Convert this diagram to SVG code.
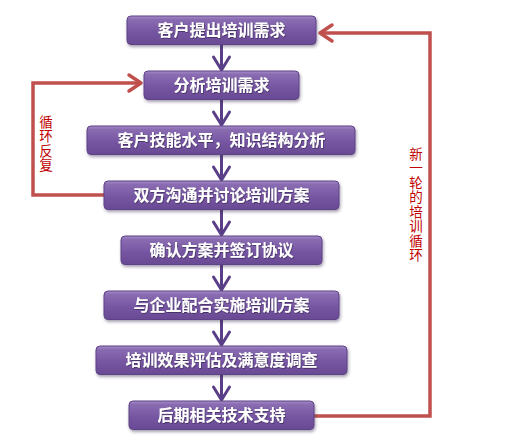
<svg xmlns="http://www.w3.org/2000/svg" width="505" height="444" viewBox="0 0 505 444">
<defs>
<linearGradient id="g" x1="0" y1="0" x2="0" y2="1">
<stop offset="0" stop-color="#a68cc8"/>
<stop offset="0.12" stop-color="#8a6cb2"/>
<stop offset="0.6" stop-color="#7454a0"/>
<stop offset="1" stop-color="#6a4a94"/>
</linearGradient>
<filter id="sh" x="-10%" y="-30%" width="120%" height="170%">
<feDropShadow dx="1" dy="2" stdDeviation="1.5" flood-color="#3a2a55" flood-opacity="0.45"/>
</filter>
<filter id="ts" x="-5%" y="-20%" width="110%" height="140%">
<feDropShadow dx="0.6" dy="0.8" stdDeviation="0.5" flood-color="#2a1a40" flood-opacity="0.7"/>
</filter>
</defs>
<style>
.box{fill:url(#g);stroke:#5e4386;stroke-width:1;filter:url(#sh)}
.lbl{font-family:"Noto Sans CJK SC","Noto Sans",sans-serif;font-weight:bold;font-size:16px;fill:#ffffff;text-anchor:middle;filter:url(#ts)}
.flow{stroke:#5a3f88;stroke-width:3;fill:none}
.head{stroke:#5a3f88;stroke-width:3;fill:none;stroke-linecap:round;stroke-linejoin:round}
.loop{stroke:#c0504d;stroke-width:3.5;fill:none}
.lhead{stroke:#c0504d;stroke-width:3.5;fill:none;stroke-linecap:round;stroke-linejoin:round}
.side{font-family:"Noto Sans CJK SC","Noto Sans",sans-serif;font-size:13.5px;fill:#c00000;text-anchor:start;writing-mode:vertical-rl;letter-spacing:1px}
</style>
<rect width="505" height="444" fill="#ffffff"/>
<g id="connectors">
<path class="flow" d="M221.5,44 V70"/><path class="head" d="M213.5,57 L221.5,70 L229.5,57"/>
<path class="flow" d="M221.5,100 V125"/><path class="head" d="M213.5,112 L221.5,125 L229.5,112"/>
<path class="flow" d="M221.5,154 V180"/><path class="head" d="M213.5,167 L221.5,180 L229.5,167"/>
<path class="flow" d="M221.5,210 V235"/><path class="head" d="M213.5,222 L221.5,235 L229.5,222"/>
<path class="flow" d="M221.5,264 V290"/><path class="head" d="M213.5,277 L221.5,290 L229.5,277"/>
<path class="flow" d="M221.5,320 V345"/><path class="head" d="M213.5,332 L221.5,345 L229.5,332"/>
<path class="flow" d="M221.5,374 V400"/><path class="head" d="M213.5,387 L221.5,400 L229.5,387"/>
<path class="loop" d="M314,416 H430 V33 H320"/>
<path class="lhead" d="M332,25 L320,33 L332,41"/>
<path class="loop" d="M104,195 H33 V83 H141"/>
<path class="lhead" d="M129,75 L141,83 L129,91"/>
</g>
<g id="n1"><rect class="box" x="127" y="16" width="189" height="28.5" rx="4"/><text class="lbl" x="221.5" y="36">客户提出培训需求</text></g>
<g id="n2"><rect class="box" x="144" y="71" width="155" height="28.5" rx="4"/><text class="lbl" x="221.5" y="91">分析培训需求</text></g>
<g id="n3"><rect class="box" x="87" y="126" width="268" height="28.5" rx="4"/><text class="lbl" x="221.5" y="146">客户技能水平，知识结构分析</text></g>
<g id="n4"><rect class="box" x="104" y="181" width="235" height="28.5" rx="4"/><text class="lbl" x="221.5" y="201">双方沟通并讨论培训方案</text></g>
<g id="n5"><rect class="box" x="121" y="236" width="201" height="28.5" rx="4"/><text class="lbl" x="221.5" y="256">确认方案并签订协议</text></g>
<g id="n6"><rect class="box" x="104" y="291" width="235" height="28.5" rx="4"/><text class="lbl" x="221.5" y="311">与企业配合实施培训方案</text></g>
<g id="n7"><rect class="box" x="96" y="346" width="251" height="28.5" rx="4"/><text class="lbl" x="221.5" y="366">培训效果评估及满意度调查</text></g>
<g id="n8"><rect class="box" x="129" y="401" width="185" height="28.5" rx="4"/><text class="lbl" x="221.5" y="421">后期相关技术支持</text></g>
<g id="loop-left-label">
<text class="side" x="46" y="115">循环反复</text>
</g>
<g id="loop-right-label">
<text class="side" x="416" y="147">新一轮的培训循环</text>
</g>
</svg>
